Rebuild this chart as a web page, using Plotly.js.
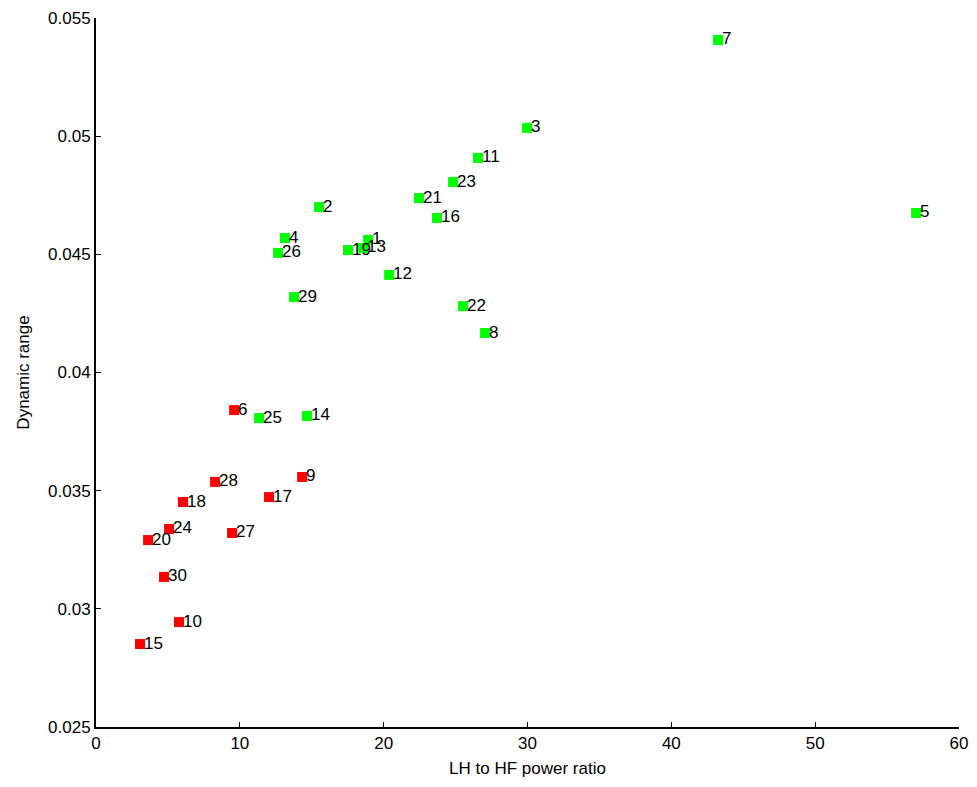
<!DOCTYPE html>
<html>
<head>
<meta charset="utf-8">
<script src="https://cdn.plot.ly/plotly-3.0.1.min.js"></script>
<style>html,body{margin:0;padding:0;background:#fff;}#chart{width:977px;height:787px;}</style>
</head>
<body>
<div id="chart"></div>
<script>
// Green group
const greenIds = ["7","3","11","23","21","16","2","5","4","26","19","1","13","12","29","22","8","25","14"];
const greenX = [43.25,29.97,26.56,24.83,22.46,23.71,15.51,57.02,13.14,12.66,17.52,18.92,18.57,20.38,13.77,25.52,27.05,11.34,14.67];
const greenY = [0.05407,0.05035,0.04908,0.04806,0.04738,0.04654,0.04700,0.04675,0.04569,0.04506,0.04518,0.04561,0.04527,0.04413,0.04319,0.04281,0.04167,0.03807,0.03816];
// Red group
const redIds = ["6","9","28","17","18","24","27","20","30","10","15"];
const redX = [9.60,14.33,8.28,12.03,6.05,5.08,9.46,3.62,4.73,5.77,3.06];
const redY = [0.03841,0.03558,0.03537,0.03473,0.03452,0.03338,0.03321,0.03291,0.03135,0.02944,0.02851];
// Axis ticks
const xTicks = [0,10,20,30,40,50,60];
const yTicks = [0.025,0.03,0.035,0.04,0.045,0.05,0.055];
const yTickLabels = ["0.025","0.03","0.035","0.04","0.045","0.05","0.055"];

const font = "Liberation Sans, Arial, sans-serif";
function trace(x, y, ids, color) {
  return {
    type: "scatter", mode: "markers", x: x, y: y, text: ids,
    marker: {symbol: "square", size: 10, color: color, line: {width: 0}},
    hoverinfo: "x+y+text", cliponaxis: false
  };
}
function labels(x, y, ids) {
  return ids.map((t, i) => ({
    x: x[i], y: y[i], xref: "x", yref: "y", text: t, showarrow: false,
    xanchor: "left", yanchor: "middle", xshift: 3, yshift: 1,
    font: {family: font, size: 17, color: "#000"}, borderpad: 0
  }));
}
const data = [trace(greenX, greenY, greenIds, "#00ff00"), trace(redX, redY, redIds, "#ff0000")];
const layout = {
  width: 977, height: 787,
  margin: {l: 96, r: 18, t: 18, b: 60},
  paper_bgcolor: "#fff", plot_bgcolor: "#fff",
  showlegend: false,
  font: {family: font, size: 17, color: "#000"},
  annotations: labels(greenX, greenY, greenIds).concat(labels(redX, redY, redIds)),
  xaxis: {
    range: [0, 60], tickvals: xTicks, ticks: "inside", ticklen: 5, tickcolor: "#000",
    showline: true, linecolor: "#000", linewidth: 2, showgrid: false, zeroline: false,
    tickfont: {family: font, size: 17},
    title: {text: "LH to HF power ratio", font: {family: font, size: 17}, standoff: 10}
  },
  yaxis: {
    range: [0.025, 0.055], tickvals: yTicks, ticktext: yTickLabels, ticks: "inside", ticklen: 5, tickcolor: "#000",
    showline: true, linecolor: "#000", linewidth: 2, showgrid: false, zeroline: false,
    tickfont: {family: font, size: 17},
    title: {text: "Dynamic range", font: {family: font, size: 17}, standoff: 14}
  }
};
Plotly.newPlot("chart", data, layout, {displayModeBar: false, staticPlot: true});
</script>
</body>
</html>
